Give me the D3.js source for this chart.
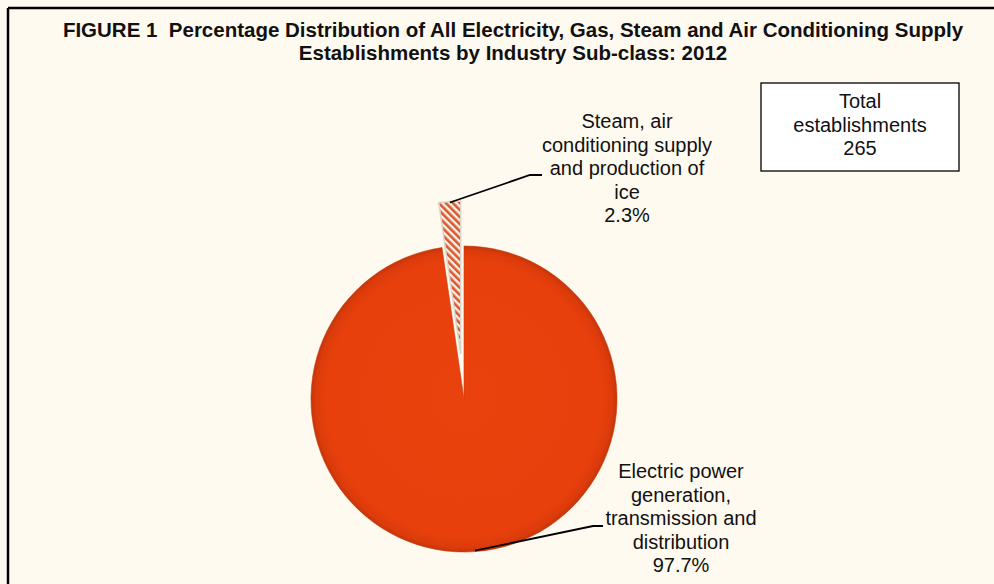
<!DOCTYPE html>
<html>
<head>
<meta charset="utf-8">
<script src="https://cdn.jsdelivr.net/npm/d3@7"></script>
<style>
  html, body { margin: 0; padding: 0; background: #fefaf0; }
  svg { display: block; font-family: "Liberation Sans", Arial, sans-serif; }
</style>
</head>
<body>
<script>
// chart values
var categories = ["Electric power generation, transmission and distribution",
                  "Steam, air conditioning supply and production of ice"];
var shares = [97.7, 2.3];
var labelLines = [
  ["Electric power", "generation,", "transmission and", "distribution", "97.7%"],
  ["Steam, air", "conditioning supply", "and production of", "ice", "2.3%"]
];
var titleLines = ["FIGURE 1\u00a0\u00a0Percentage Distribution of All Electricity, Gas, Steam and Air Conditioning Supply",
                  "Establishments by Industry Sub-class: 2012"];
var totalLines = ["Total", "establishments", "265"];

var width = 994,
	height = 584;

var svg = d3.select("body").append("svg")
	.attr("width", width)
	.attr("height", height);

var defs = svg.append("defs");

var cx = 464, cy = 399, r = 153, explode = 45;

// soft rim on the pie, like the excel bevel
var grad = defs.append("radialGradient").attr("id", "pieFill")
	.attr("gradientUnits", "userSpaceOnUse")
	.attr("cx", 0).attr("cy", 0).attr("r", r);
grad.append("stop").attr("offset", "0%").attr("stop-color", "#ea420d");
grad.append("stop").attr("offset", "90%").attr("stop-color", "#e8400c");
grad.append("stop").attr("offset", "97%").attr("stop-color", "#dc3b0b");
grad.append("stop").attr("offset", "100%").attr("stop-color", "#c4360a");

// red / white stripes for the small slice
var pat = defs.append("pattern").attr("id", "hatch")
	.attr("patternUnits", "userSpaceOnUse")
	.attr("width", 5).attr("height", 5)
	.attr("patternTransform", "rotate(-45)");
pat.append("rect").attr("width", 5).attr("height", 5).attr("fill", "#fbf0e6");
pat.append("rect").attr("width", 2.6).attr("height", 5).attr("fill", "#d9582e");

// frame (only top and left edge show in the picture)
svg.append("line").attr("x1", 8).attr("y1", 8).attr("x2", width).attr("y2", 8)
	.attr("stroke", "#000").attr("stroke-width", 2.5);
svg.append("line").attr("x1", 8).attr("y1", 8).attr("x2", 8).attr("y2", height)
	.attr("stroke", "#000").attr("stroke-width", 2.5);

// title
svg.append("g").selectAll("text")
	.data(titleLines)
	.enter().append("text")
	.attr("x", 513)
	.attr("y", function(d, i){ return 37 + i * 23 })
	.attr("text-anchor", "middle")
	.attr("font-weight", "bold")
	.attr("font-size", 20.5)
	.attr("fill", "#111")
	.text(function(d){ return d });

/* pie */
var pie = d3.pie().sort(null).value(function(d){ return d });
var arc = d3.arc().innerRadius(0).outerRadius(r);
var arcs = pie(shares);

var pieG = svg.append("g").attr("transform", "translate(" + cx + "," + cy + ")");

function offset(d, k) {
	var a = (d.startAngle + d.endAngle) / 2;
	return [Math.sin(a) * k, -Math.cos(a) * k];
}

pieG.selectAll("path")
	.data(arcs)
	.enter().append("path")
	.attr("d", arc)
	.attr("transform", function(d, i){
		var o = i == 1 ? offset(d, explode) : [0, 0];
		return "translate(" + o[0] + "," + o[1] + ")";
	})
	.attr("fill", function(d, i){ return i == 0 ? "url(#pieFill)" : "url(#hatch)" })
	.attr("stroke", function(d, i){ return i == 0 ? "#c9390b" : "#ddd5cb" })
	.attr("stroke-width", function(d, i){ return i == 0 ? 0.6 : 1.5 });

// leader lines + labels
var elbows = [[[593, 526], [603, 526]], [[530, 175], [542, 175]]];
var labelPos = [[681, 478], [627, 128]];

arcs.forEach(function(d, i){
	var mid = (d.startAngle + d.endAngle) / 2;
	var o = i == 1 ? offset(d, explode) : [0, 0];
	var start = [cx + o[0] + Math.sin(mid) * (r - 1), cy + o[1] - Math.cos(mid) * (r - 1)];
	svg.append("polyline")
		.attr("points", [start].concat(elbows[i]).map(function(p){ return p.join(",") }).join(" "))
		.attr("fill", "none")
		.attr("stroke", "#000")
		.attr("stroke-width", 1.8);

	svg.append("g").selectAll("text")
		.data(labelLines[i])
		.enter().append("text")
		.attr("x", labelPos[i][0])
		.attr("y", function(t, j){ return labelPos[i][1] + j * 23.6 })
		.attr("text-anchor", "middle")
		.attr("font-size", 20)
		.attr("fill", "#111")
		.text(function(t){ return t });
});

// total box
svg.append("rect")
	.attr("x", 761).attr("y", 83)
	.attr("width", 198).attr("height", 88)
	.attr("fill", "#fff")
	.attr("stroke", "#000")
	.attr("stroke-width", 1.3);
svg.append("g").selectAll("text")
	.data(totalLines)
	.enter().append("text")
	.attr("x", 860)
	.attr("y", function(d, i){ return 108 + i * 23.5 })
	.attr("text-anchor", "middle")
	.attr("font-size", 20)
	.attr("fill", "#111")
	.text(function(d){ return d });
</script>
</body>
</html>
